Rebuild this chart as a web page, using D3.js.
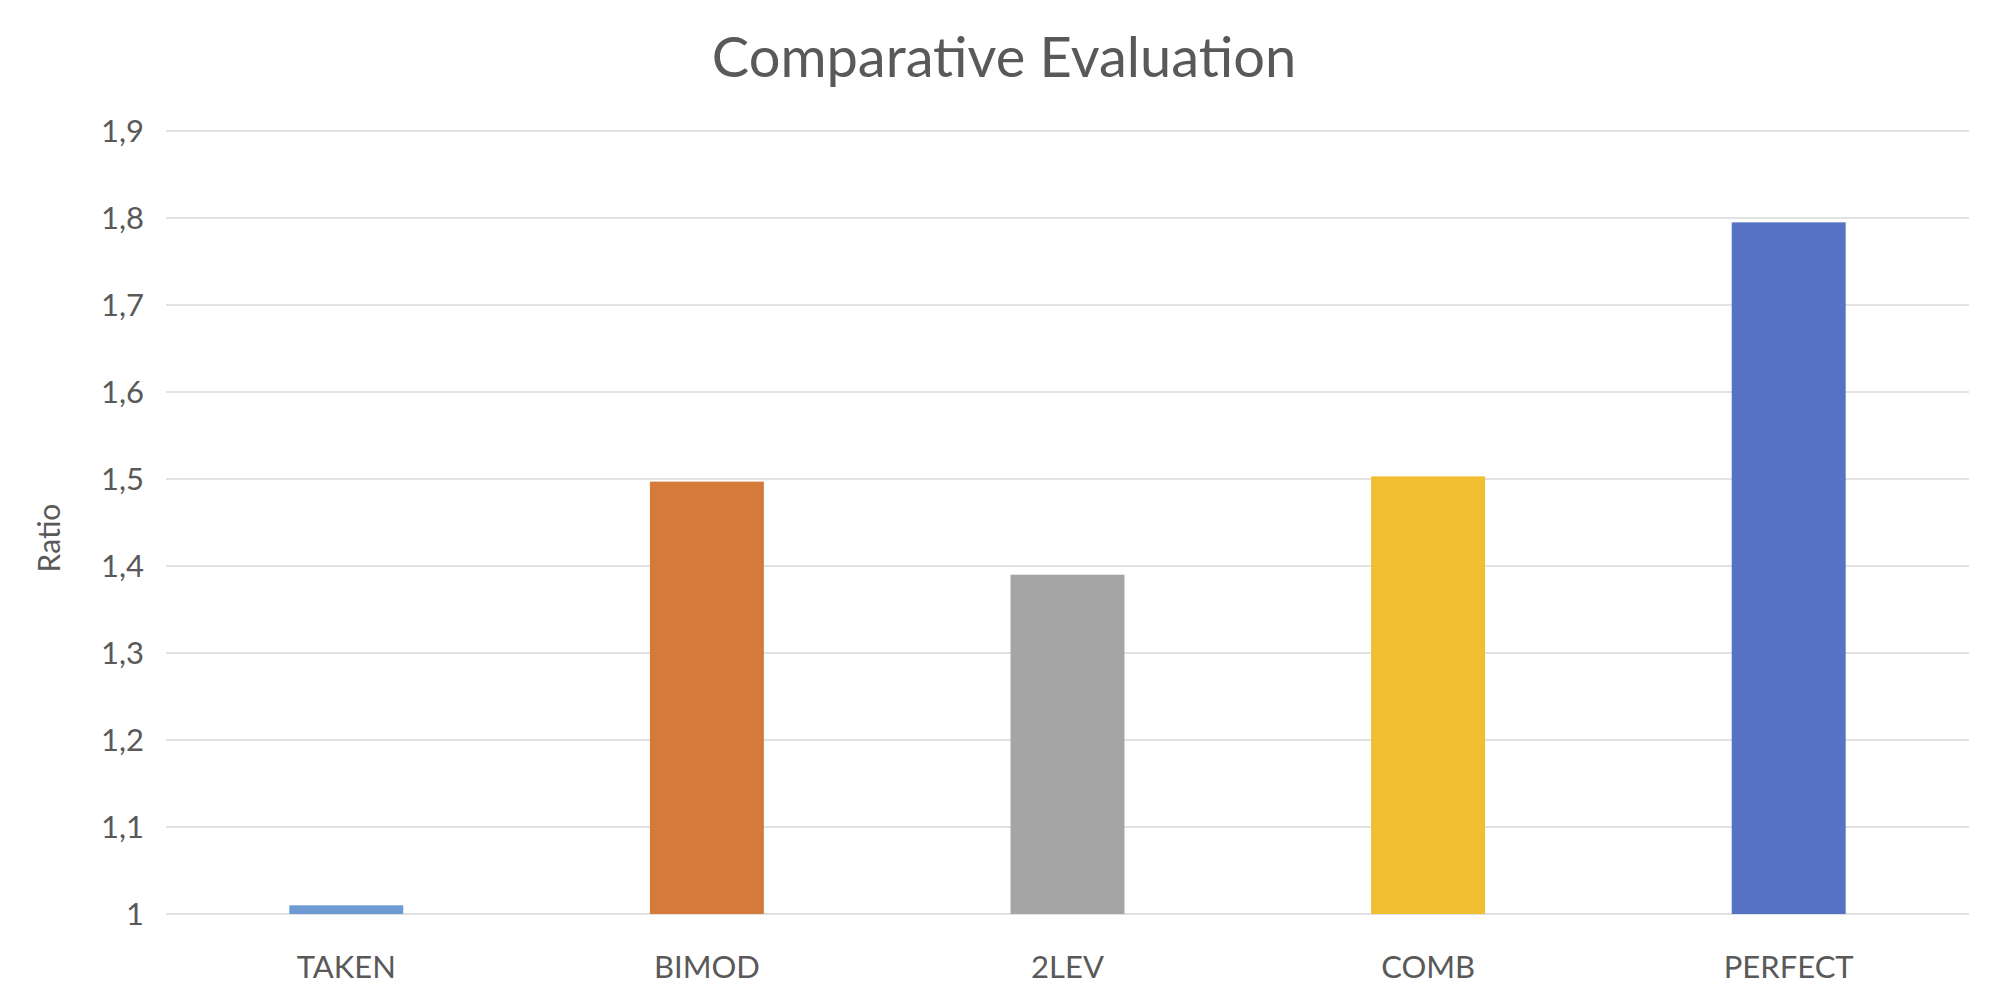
<!DOCTYPE html>
<html><head><meta charset="utf-8">
<script src="https://cdn.jsdelivr.net/npm/d3@7"></script>
<style>body{margin:0;background:#fff}</style></head>
<body><svg id="c" width="2008" height="1004"></svg>
<script>
const categories = ["TAKEN","BIMOD","2LEV","COMB","PERFECT"];
const values = [1.01,1.497,1.39,1.503,1.795];
const colors = ["#6f9bd4","#d57b39","#a5a5a5","#f0be30","#5572c3"];
const yTicks = [1,1.1,1.2,1.3,1.4,1.5,1.6,1.7,1.8,1.9];
const font = "Lato, 'Open Sans', sans-serif";
const svg = d3.select("#c");
const L=166,R=1969,T=131,B=914;
const x = d3.scaleBand().domain(categories).range([L,R]).paddingInner(0.684).paddingOuter(0.342);
const y = d3.scaleLinear().domain([1,1.9]).range([B,T]);
svg.append("g").selectAll("line").data(yTicks).join("line")
  .attr("x1",L).attr("x2",R).attr("y1",d=>y(d)).attr("y2",d=>y(d))
  .attr("stroke","#d9d9d9").attr("stroke-width",1.5);
svg.append("g").selectAll("text").data(yTicks).join("text")
  .attr("x",144).attr("y",d=>y(d)).attr("dy","0.35em").attr("text-anchor","end")
  .attr("font-family",font).attr("font-size",31).attr("fill","#595959")
  .text(d=>d3.format(".1~f")(d).replace(".",","));
svg.append("g").selectAll("rect").data(values).join("rect")
  .attr("x",(d,i)=>x(categories[i])).attr("width",x.bandwidth())
  .attr("y",d=>y(d)).attr("height",d=>y(1)-y(d)).attr("fill",(d,i)=>colors[i]);
svg.append("g").selectAll("text").data(categories).join("text")
  .attr("x",d=>x(d)+x.bandwidth()/2).attr("y",967).attr("dy","0.35em").attr("text-anchor","middle")
  .attr("font-family",font).attr("font-size",31).attr("fill","#595959").text(d=>d);
svg.append("text").attr("x",1004).attr("y",57).attr("dy","0.35em").attr("text-anchor","middle")
  .attr("font-family",font).attr("font-size",56).attr("fill","#595959").text("Comparative Evaluation");
svg.append("text").attr("transform","translate(49,538) rotate(-90)").attr("dy","0.35em").attr("text-anchor","middle")
  .attr("font-family",font).attr("font-size",30).attr("fill","#595959").text("Ratio");
</script></body></html>
